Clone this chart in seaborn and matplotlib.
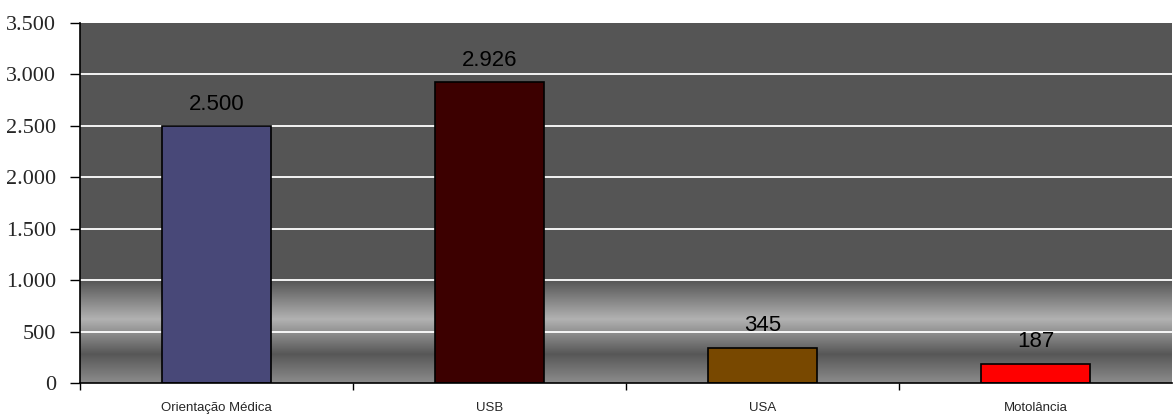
import numpy as np
import pandas as pd
import matplotlib
matplotlib.use("Agg")
import matplotlib.pyplot as plt
import seaborn as sns
from matplotlib.ticker import FuncFormatter, FixedLocator
from matplotlib.colors import LinearSegmentedColormap

# data
categories = ["Orientação Médica", "USB", "USA", "Motolância"]
values = [2500, 2926, 345, 187]
bar_colors = ["#484878", "#3c0000", "#784800", "#ff0000"]

df = pd.DataFrame({"cat": categories, "val": values})

sns.set_theme(style="white")
fig = plt.figure(figsize=(11.73, 4.17), dpi=100)
ax = fig.add_axes([80 / 1173, 1 - 383 / 417, 1092 / 1173, 360 / 417])

ax.set_facecolor("#555555")

# gradient band 0..1000
grad = LinearSegmentedColormap.from_list(
    "band",
    [(0.0, "#8c8c8c"), (0.28, "#575757"), (0.62, "#b2b2b2"), (1.0, "#555555")],
)
yy = np.linspace(0, 1, 256).reshape(-1, 1)
ax.imshow(yy, cmap=grad, aspect="auto", origin="lower",
          extent=[-0.5, 3.5, 0, 1000], zorder=0, interpolation="bilinear")

for y in range(500, 3500, 500):
    ax.axhline(y, color="white", lw=1.3, zorder=1)

sns.barplot(data=df, x="cat", y="val", hue="cat", palette=bar_colors,
            saturation=1, width=0.4, edgecolor="black", linewidth=1.2,
            legend=False, ax=ax, zorder=2)

for i, v in enumerate(values):
    ax.text(i, v + 110, f"{v:,}".replace(",", "."), ha="center", va="bottom",
            fontsize=16, family="Liberation Sans", color="black")

ax.set_xlim(-0.5, 3.5)
ax.set_ylim(0, 3500)
ax.set_yticks(range(0, 3501, 500))
ax.yaxis.set_major_formatter(FuncFormatter(lambda v, p: f"{int(v):,}".replace(",", ".")))
for lab in ax.get_yticklabels():
    lab.set_family("Liberation Serif")
    lab.set_fontsize(16)

ax.set_xticks(range(len(categories)))
ax.set_xticklabels(categories, family="Liberation Sans", fontsize=9.5)
ax.xaxis.set_minor_locator(FixedLocator([-0.5, 0.5, 1.5, 2.5]))
ax.tick_params(axis="x", which="major", length=0, pad=14)
ax.tick_params(axis="x", which="minor", length=5, width=1, color="black", direction="out", bottom=True)
ax.tick_params(axis="y", length=7, width=1, color="black", direction="out", left=True, pad=10)

ax.set_xlabel("")
ax.set_ylabel("")
for s in ["top", "right"]:
    ax.spines[s].set_visible(False)
for s in ["left", "bottom"]:
    ax.spines[s].set_color("black")
    ax.spines[s].set_linewidth(1.2)
    ax.spines[s].set_zorder(5)

fig.savefig("out.png", dpi=100)
